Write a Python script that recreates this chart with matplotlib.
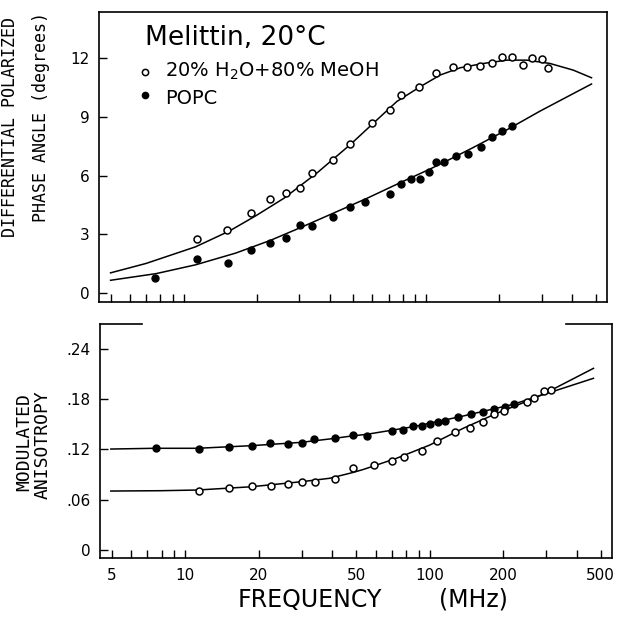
import matplotlib
matplotlib.use('Agg')
import matplotlib.pyplot as plt
from matplotlib.ticker import FixedLocator, NullFormatter

plt.rcParams['mathtext.default'] = 'regular'

# --- upper panel: differential polarized phase angle (degrees) ---
freq_solv_top = [11.4, 15.1, 18.9, 22.6, 26.4, 30.1, 33.9, 41.3, 48.7, 59.8, 71.1, 78.7,
                 93.8, 110, 128.8, 147, 166.7, 186.3, 205, 225.3, 251.4, 272.2, 301, 318.4]
phase_solv = [2.75, 3.22, 4.11, 4.81, 5.10, 5.40, 6.12, 6.80, 7.62, 8.71, 9.36, 10.12,
              10.52, 11.23, 11.54, 11.54, 11.61, 11.77, 12.05, 12.08, 11.66, 12.0, 11.95, 11.52]

freq_popc_top = [7.62, 11.4, 15.2, 19.0, 22.6, 26.4, 30.1, 33.9, 41.3, 48.7, 56.1, 71.1,
                 78.9, 86.7, 94.4, 102.8, 110, 118.6, 132.9, 148.5, 167.9, 187.5, 206.2, 225.3]
phase_popc = [0.80, 1.77, 1.52, 2.23, 2.54, 2.80, 3.48, 3.43, 3.87, 4.41, 4.67, 5.05,
              5.57, 5.86, 5.83, 6.20, 6.71, 6.71, 7.02, 7.11, 7.48, 7.99, 8.30, 8.55]

# fitted curves
fit_freq_solv_top = [5.0, 7.0, 11.2, 15.4, 19.8, 25.9, 35.5, 48.7, 60.7, 75.7, 94.4,
                     114.2, 138, 172, 215, 259.5, 323.6, 403.6, 480]
fit_phase_solv = [1.04, 1.52, 2.37, 3.17, 3.95, 4.85, 6.15, 7.60, 8.70, 9.80, 10.55,
                  11.15, 11.52, 11.74, 11.91, 11.91, 11.74, 11.40, 11.01]

fit_freq_popc_top = [5.0, 7.7, 11.2, 16.4, 22.8, 30.3, 41.6, 57.0, 78.2, 103.9, 125.6,
                     156.5, 215, 294, 403.6, 480]
fit_phase_popc = [0.66, 1.00, 1.45, 2.05, 2.70, 3.35, 4.10, 4.85, 5.65, 6.35, 6.85,
                  7.45, 8.35, 9.30, 10.20, 10.69]

# --- lower panel: modulated anisotropy ---
freq_popc_bot = [7.59, 11.34, 15.05, 18.77, 22.3, 26.2, 30.0, 33.5, 40.9, 48.5, 55.3, 70.3,
                 77.7, 85.4, 92.5, 100, 108.2, 115.9, 130.6, 146.9, 165.3, 183.4, 202.9, 221.6]
aniso_popc = [0.1214, 0.1205, 0.1233, 0.1241, 0.1273, 0.1265, 0.1281, 0.1321, 0.1333, 0.1372,
              0.1360, 0.1420, 0.1432, 0.1480, 0.1480, 0.1500, 0.1524, 0.1539, 0.1584, 0.1623,
              0.1643, 0.1683, 0.1710, 0.1739]

freq_solv_bot = [11.4, 15.1, 18.77, 22.4, 26.2, 30.0, 33.8, 41.1, 48.5, 59.1, 70.3, 78.5,
                 93.3, 107.5, 126.6, 145.9, 165.3, 182.9, 200.9, 249, 266.7, 294, 313.3]
aniso_solv = [0.0708, 0.0736, 0.0764, 0.0767, 0.0788, 0.0808, 0.0815, 0.0847, 0.0982, 0.1018,
              0.1066, 0.1106, 0.1178, 0.1301, 0.1405, 0.1452, 0.1524, 0.1619, 0.1659, 0.1770,
              0.1810, 0.1897, 0.1909]

fit_freq_popc_bot = [4.96, 7.46, 11.2, 18.6, 29.8, 38.9, 47.7, 55.0, 85.4, 136.9, 219.5,
                     291.3, 467]
fit_aniso_popc = [0.1205, 0.1214, 0.1214, 0.1245, 0.1285, 0.1325, 0.1360, 0.1380, 0.1471,
                  0.1599, 0.1739, 0.1855, 0.2049]

fit_freq_solv_bot = [4.96, 7.95, 11.2, 18.6, 29.8, 38.9, 47.7, 53.3, 73.0, 100, 136.9,
                     187.7, 257, 300.6, 467]
fit_aniso_solv = [0.0704, 0.0708, 0.0716, 0.0755, 0.0815, 0.0856, 0.0920, 0.0960, 0.1094,
                  0.1253, 0.1452, 0.1631, 0.1790, 0.1880, 0.2168]

x_major = [5, 10, 20, 50, 100, 200, 500]
x_minor = [6, 7, 8, 9, 30, 40, 60, 70, 80, 90, 300, 400]
y_top_ticks = [0, 3, 6, 9, 12]
y_bot_ticks = [0, 0.06, 0.12, 0.18, 0.24]
y_bot_labels = ['0', '.06', '.12', '.18', '.24']

W, H = 619, 621
fig = plt.figure(figsize=(W / 100, H / 100), dpi=100)
ax1 = fig.add_axes([99 / W, 1 - 302 / H, 508 / W, 290 / H])
ax2 = fig.add_axes([100 / W, 1 - 558 / H, 512 / W, 234 / H])

for ax in (ax1, ax2):
    ax.set_xscale('log')
    ax.set_xlim(4.48, 556)
    ax.xaxis.set_major_locator(FixedLocator(x_major))
    ax.xaxis.set_minor_locator(FixedLocator(x_minor))
    ax.xaxis.set_minor_formatter(NullFormatter())
    ax.tick_params(which='both', direction='in', length=6, width=1.0,
                   labelsize=11, pad=7)
    for s in ax.spines.values():
        s.set_linewidth(1.2)

lw = 1.1
ms = 5

# upper panel
ax1.plot(fit_freq_solv_top, fit_phase_solv, color='black', lw=lw, zorder=2)
ax1.plot(fit_freq_popc_top, fit_phase_popc, color='black', lw=lw, zorder=2)
ax1.plot(freq_solv_top, phase_solv, 'o', ms=ms, mfc='white', mec='black', mew=1.1, zorder=3)
ax1.plot(freq_popc_top, phase_popc, 'o', ms=ms, mfc='black', mec='black', zorder=3)
ax1.set_ylim(-0.45, 14.37)
ax1.set_yticks(y_top_ticks)
ax1.tick_params(labelbottom=False)

ax1.text(0.0906, 0.886, 'Melittin, 20°C', transform=ax1.transAxes, fontsize=19,
         va='baseline', ha='left')
ax1.plot([0.0906], [0.793], 'o', ms=4.5, mfc='white', mec='black', mew=1.1,
         transform=ax1.transAxes)
ax1.text(0.130, 0.795, '20% H$_2$O+80% MeOH', transform=ax1.transAxes, fontsize=14,
         va='center', ha='left')
ax1.plot([0.0906], [0.714], 'o', ms=4.5, mfc='black', mec='black',
         transform=ax1.transAxes)
ax1.text(0.130, 0.703, 'POPC', transform=ax1.transAxes, fontsize=14,
         va='center', ha='left')

# lower panel
ax2.plot(fit_freq_popc_bot, fit_aniso_popc, color='black', lw=lw, zorder=2)
ax2.plot(fit_freq_solv_bot, fit_aniso_solv, color='black', lw=lw, zorder=2)
ax2.plot(freq_popc_bot, aniso_popc, 'o', ms=ms, mfc='black', mec='black', zorder=3)
ax2.plot(freq_solv_bot, aniso_solv, 'o', ms=ms, mfc='white', mec='black', mew=1.1, zorder=3)
ax2.set_ylim(-0.0095, 0.2697)
ax2.set_yticks(y_bot_ticks)
ax2.set_yticklabels(y_bot_labels)
ax2.set_xticklabels([str(v) for v in x_major])
ax2.spines['top'].set_visible(False)
# only the two corner pieces of the top frame are drawn
ax2.plot([0, 42 / 512], [1, 1], color='black', lw=1.2, transform=ax2.transAxes, clip_on=False)
ax2.plot([466 / 512, 1], [1, 1], color='black', lw=1.2, transform=ax2.transAxes, clip_on=False)

# axis titles
mono = 'DejaVu Sans Mono'
fig.text(10 / W, 1 - 127 / H, 'DIFFERENTIAL POLARIZED', rotation=90, family=mono,
         fontsize=12, ha='center', va='center')
fig.text(41 / W, 1 - 117 / H, 'PHASE ANGLE (degrees)', rotation=90, family=mono,
         fontsize=12, ha='center', va='center')
fig.text(24 / W, 1 - 442 / H, 'MODULATED', rotation=90, family=mono,
         fontsize=13, ha='center', va='center')
fig.text(43 / W, 1 - 445 / H, 'ANISOTROPY', rotation=90, family=mono,
         fontsize=13, ha='center', va='center')
fig.text(310 / W, 1 - 600 / H, 'FREQUENCY', fontsize=17, ha='center', va='center')
fig.text(473 / W, 1 - 600 / H, '(MHz)', fontsize=17, ha='center', va='center')

fig.savefig('out.png', dpi=100)
